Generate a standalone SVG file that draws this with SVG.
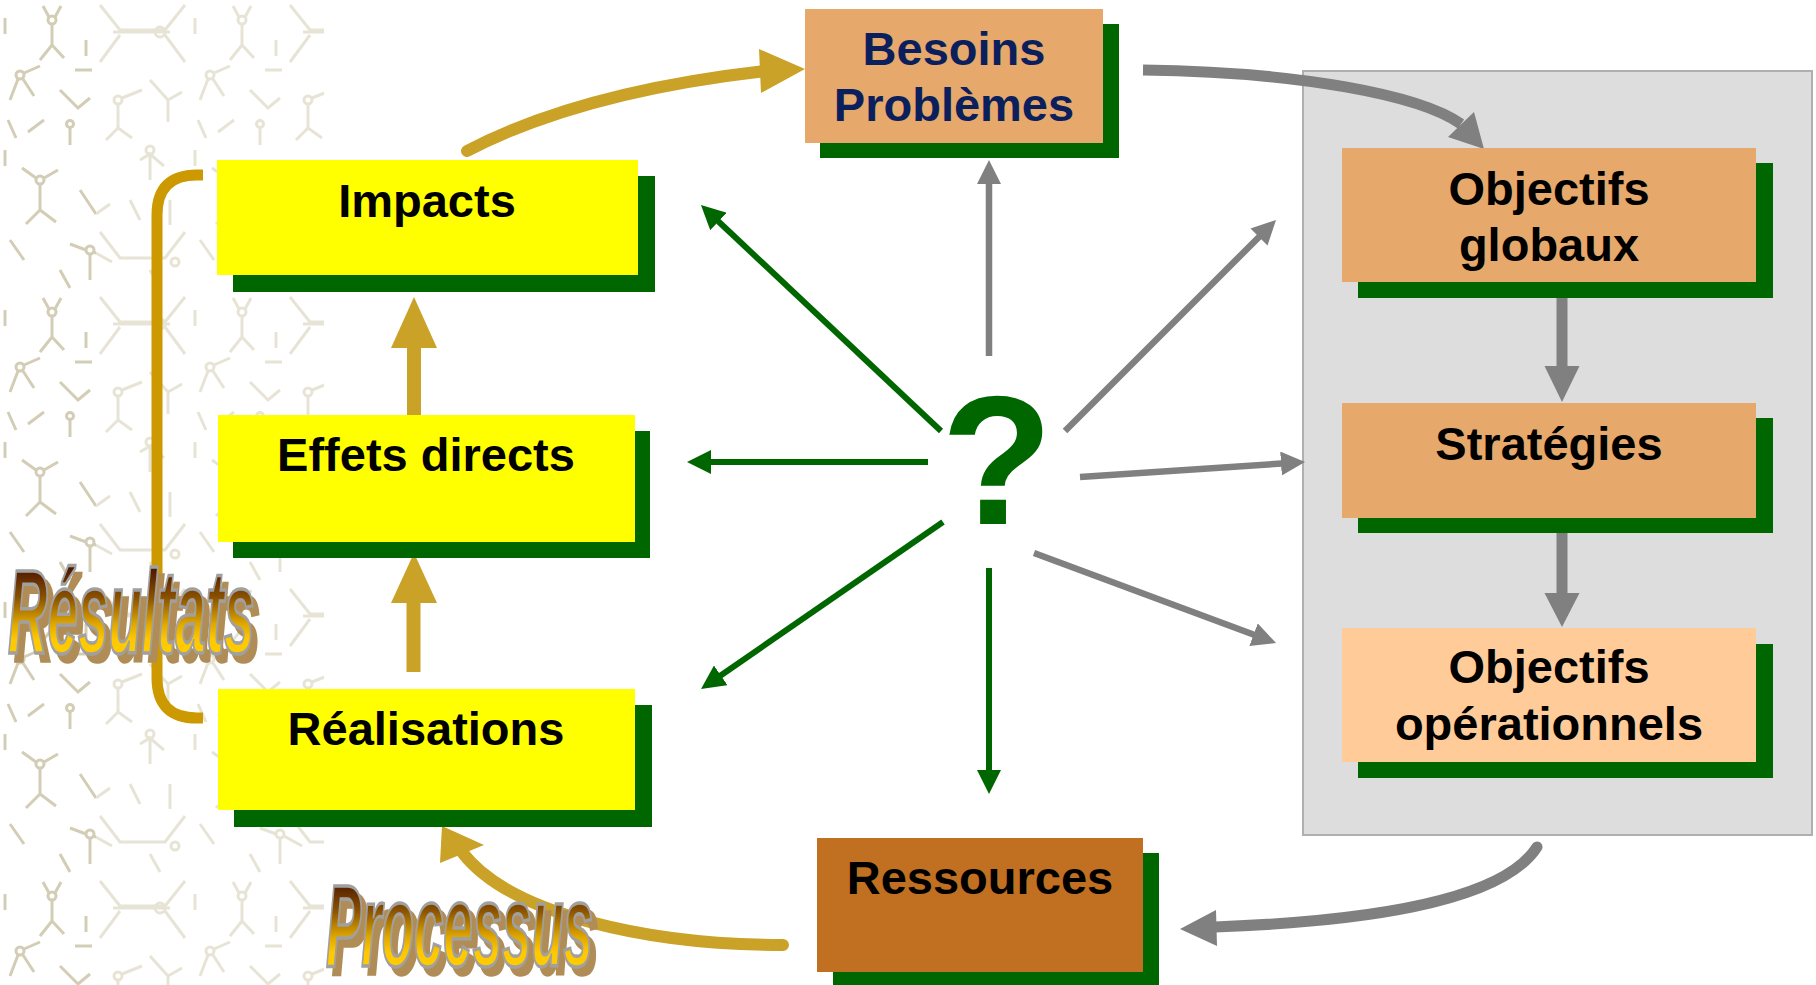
<svg xmlns="http://www.w3.org/2000/svg" width="1816" height="985" viewBox="0 0 1816 985">
<defs>
<style>
.box-text{font-family:"Liberation Sans",Arial,sans-serif;font-weight:bold;font-size:47px;text-anchor:middle;fill:#000}
.navy{fill:#0B1F5C}
.shadow{fill:#006600}
.yellow{fill:#FFFF00}
.peach{fill:#E6A86B}
.light{fill:#FFCC99}
.brown{fill:#C07020}
.green-line{stroke:#006600;stroke-width:6;fill:none;marker-end:url(#ah-green)}
.gray-line{stroke:#808080;stroke-width:6.5;fill:none;marker-end:url(#ah-gray)}
.gold{fill:#C9A227}
.gold-stroke{stroke:#C9A227;stroke-width:12;fill:none}
.gray-fill{fill:#808080}
.gray-stroke{stroke:#808080;stroke-width:11;fill:none}
.wordart{font-family:"Liberation Sans",Arial,sans-serif;font-weight:bold;font-style:italic;fill:url(#waGrad);stroke:#A0A0A0;stroke-width:3.5;filter:url(#waShadow)}
</style>
<marker id="ah-green" viewBox="0 0 10 10" refX="5" refY="5" markerWidth="4" markerHeight="4" orient="auto"><path d="M0,0 L10,5 L0,10 z" fill="#006600"/></marker>
<marker id="ah-gray" viewBox="0 0 10 10" refX="5" refY="5" markerWidth="3.7" markerHeight="3.7" orient="auto"><path d="M0,0 L10,5 L0,10 z" fill="#808080"/></marker>
<linearGradient id="waGrad" gradientUnits="userSpaceOnUse" x1="0" y1="-86" x2="0" y2="2">
<stop offset="0" stop-color="#4A1400"/>
<stop offset="0.35" stop-color="#8A5200"/>
<stop offset="0.65" stop-color="#E0A800"/>
<stop offset="0.82" stop-color="#FFC800"/>
<stop offset="1" stop-color="#FFCC00"/>
</linearGradient>
<filter id="waShadow" x="-5%" y="-10%" width="115%" height="130%">
<feOffset in="SourceAlpha" dx="13" dy="8" result="off"/>
<feFlood flood-color="#B08D57"/>
<feComposite in2="off" operator="in" result="sh"/>
<feMerge><feMergeNode in="sh"/><feMergeNode in="SourceGraphic"/></feMerge>
</filter>
<pattern id="bgpat" width="190" height="292" patternUnits="userSpaceOnUse">
<g stroke="#D3CDB5" stroke-width="3" fill="none">
<circle cx="52" cy="20" r="4"/>
<path d="M52,24 V45 M52,45 L40,60 M52,45 L64,58 M49,17 L43,6 M55,17 L61,6"/>
<circle cx="20" cy="75" r="4"/>
<path d="M18,79 L10,100 M23,79 L34,96 M24,73 L40,66"/>
<path d="M60,90 L78,108 L90,98"/>
<circle cx="70" cy="124" r="3.5"/>
<path d="M70,128 V145 M5,18 V34 M86,40 V56 M28,132 L44,120 M8,120 L16,138 M75,70 H92"/>
<path d="M100,5 L120,30 H165 L185,5 M100,62 L120,35 M165,35 L185,62 M113,32 H170"/>
<circle cx="160" cy="32" r="5"/>
<circle cx="118" cy="100" r="4"/>
<path d="M118,104 V128 M118,128 L106,140 M118,128 L132,138 M122,98 L142,90"/>
<path d="M150,80 L168,100 M168,100 L182,92 M168,100 V122"/>
<circle cx="150" cy="150" r="4"/>
<path d="M140,160 L150,154 L164,166 M150,154 V180"/>
<circle cx="40" cy="180" r="4"/>
<path d="M40,184 V210 M40,210 L26,224 M40,210 L56,222 M36,178 L22,168 M44,178 L58,170"/>
<path d="M10,240 L24,260 M80,190 L96,214 M96,214 L110,204"/>
<circle cx="90" cy="250" r="4"/>
<path d="M90,254 V280 M86,250 L70,244 M94,252 L112,262"/>
<path d="M100,232 L120,258 H165 L185,232 M130,200 L140,220 M170,200 V225 M150,270 L160,288"/>
<circle cx="175" cy="262" r="4"/>
<path d="M5,150 V166 M60,270 L70,288"/>
</g>
</pattern>
</defs>

<rect x="0" y="0" width="1816" height="985" fill="#FFFFFF"/>
<g id="background-texture">
<rect x="0" y="0" width="96" height="985" fill="url(#bgpat)"/>
<rect x="96" y="0" width="228" height="985" fill="url(#bgpat)" opacity="0.55"/>
</g>

<rect id="objectives-panel" x="1303" y="71" width="509" height="764" fill="#DDDDDD" stroke="#AFAFAF" stroke-width="2"/>

<g id="connectors">
<path class="gold-stroke" d="M467,151 Q580,92 765,71" stroke-linecap="round"/>
<polygon class="gold" points="759,49 805,69 761,93"/>
<path class="gold-stroke" d="M783,945 C650,945 510,915 462,852" stroke-linecap="round"/>
<polygon class="gold" points="440,863 442,826 484,845"/>
<rect class="gold" x="407" y="345" width="14" height="71"/>
<polygon class="gold" points="391,348 437,348 414,297"/>
<rect class="gold" x="406.5" y="600" width="14" height="72"/>
<polygon class="gold" points="391,603 437,603 414,553"/>
<path d="M203,175 H197 Q157,175 157,215 V678 Q157,718 197,718 H203" stroke="#CC9900" stroke-width="11" fill="none"/>
<path class="gray-stroke" d="M1143,70 C1300,72 1420,95 1461,124"/>
<polygon class="gray-fill" points="1448,137 1484,149 1474,112"/>
<path class="gray-stroke" d="M1537,847 C1500,905 1350,922 1215,927" stroke-linecap="round"/>
<polygon class="gray-fill" points="1216,910 1180,929 1217,946"/>
<rect class="gray-fill" x="1556.5" y="298" width="11" height="70"/>
<polygon class="gray-fill" points="1544.5,366 1579.5,366 1562,402"/>
<rect class="gray-fill" x="1556.5" y="533" width="11" height="62"/>
<polygon class="gray-fill" points="1544.5,593 1579.5,593 1562,627"/>
<line class="green-line" x1="941" y1="431" x2="709.7" y2="213.2"/>
<line class="green-line" x1="928" y1="462" x2="699" y2="462"/>
<line class="green-line" x1="943" y1="522" x2="710.9" y2="682.2"/>
<line class="green-line" x1="989" y1="568" x2="989" y2="782"/>
<line class="gray-line" x1="989" y1="356" x2="989" y2="172"/>
<line class="gray-line" x1="1065" y1="431" x2="1267.5" y2="228.5"/>
<line class="gray-line" x1="1080" y1="477" x2="1293" y2="462.8"/>
<line class="gray-line" x1="1034" y1="553" x2="1264.8" y2="638.8"/>
</g>

<g id="question">
<text x="997" y="524" font-family="Liberation Sans, Arial, sans-serif" font-weight="bold" font-size="183" text-anchor="middle" fill="#006600">?</text>
</g>

<g id="node-besoins">
<rect class="shadow" x="820" y="24" width="299" height="134"/>
<rect class="peach" x="805" y="9" width="298" height="134"/>
<text class="box-text navy" x="954" y="65">Besoins</text>
<text class="box-text navy" x="954" y="121">Problèmes</text>
</g>

<g id="node-impacts">
<rect class="shadow" x="233" y="176" width="422" height="116"/>
<rect class="yellow" x="217" y="160" width="421" height="115"/>
<text class="box-text" x="427" y="217">Impacts</text>
</g>

<g id="node-effets">
<rect class="shadow" x="233" y="431" width="417" height="127"/>
<rect class="yellow" x="218" y="415" width="417" height="127"/>
<text class="box-text" x="426" y="471">Effets directs</text>
</g>

<g id="node-realisations">
<rect class="shadow" x="234" y="705" width="418" height="122"/>
<rect class="yellow" x="218" y="689" width="417" height="121"/>
<text class="box-text" x="426" y="745">Réalisations</text>
</g>

<g id="node-objectifs-globaux">
<rect class="shadow" x="1358" y="163" width="415" height="135"/>
<rect class="peach" x="1342" y="148" width="414" height="134"/>
<text class="box-text" x="1549" y="205">Objectifs</text>
<text class="box-text" x="1549" y="261">globaux</text>
</g>

<g id="node-strategies">
<rect class="shadow" x="1358" y="418" width="415" height="115"/>
<rect class="peach" x="1342" y="403" width="414" height="115"/>
<text class="box-text" x="1549" y="460">Stratégies</text>
</g>

<g id="node-objectifs-operationnels">
<rect class="shadow" x="1358" y="644" width="415" height="134"/>
<rect class="light" x="1342" y="628" width="414" height="134"/>
<text class="box-text" x="1549" y="683">Objectifs</text>
<text class="box-text" x="1549" y="740">opérationnels</text>
</g>

<g id="node-ressources">
<rect class="shadow" x="833" y="853" width="326" height="140"/>
<rect class="brown" x="817" y="838" width="326" height="134"/>
<text class="box-text" x="980" y="894">Ressources</text>
</g>

<g id="label-resultats">
<text class="wordart" font-size="119" transform="translate(8,653) scale(0.46,1)">Résultats</text>
</g>

<g id="label-processus">
<text class="wordart" font-size="116" transform="translate(326,966) scale(0.455,1)">Processus</text>
</g>
</svg>
